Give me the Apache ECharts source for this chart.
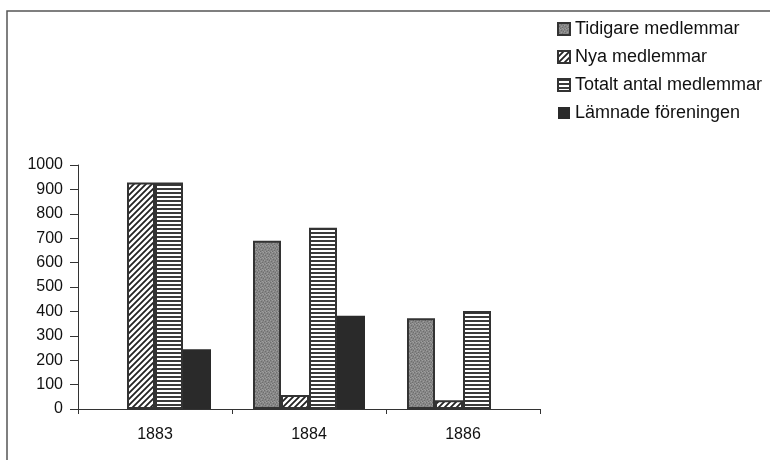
<!DOCTYPE html>
<html>
<head>
<meta charset="utf-8">
<script src="https://cdn.jsdelivr.net/npm/echarts@6/dist/echarts.min.js"></script>
<style>
  html, body { margin: 0; padding: 0; background: #fff; }
  #chart { width: 770px; height: 460px; }
</style>
</head>
<body>
<div id="chart"></div>
<script>
// data
const years = ['1883', '1884', '1886']
const tidigare = [null, 690, 372]
const nya = [928, 57, 36]
const totalt = [928, 743, 402]
const lamnade = [245, 382, null]
const yTicks = [0, 100, 200, 300, 400, 500, 600, 700, 800, 900, 1000]

// fill patterns (scanned print look)
function tile(w, h, draw) {
  const c = document.createElement('canvas')
  c.width = w
  c.height = h
  draw(c.getContext('2d'))
  return { image: c, repeat: 'repeat' }
}

const stipple = tile(6, 6, ctx => {
  ctx.fillStyle = '#878787'
  ctx.fillRect(0, 0, 6, 6)
  ctx.fillStyle = '#6e6e6e'
  ;[[0, 0], [3, 1], [1, 3], [4, 4], [5, 2], [2, 5]].forEach(p => ctx.fillRect(p[0], p[1], 1, 1))
  ctx.fillStyle = '#9e9e9e'
  ;[[2, 0], [5, 0], [0, 2], [3, 3], [1, 5], [4, 5]].forEach(p => ctx.fillRect(p[0], p[1], 1, 1))
})

const hatch = tile(6, 6, ctx => {
  ctx.fillStyle = '#fff'
  ctx.fillRect(0, 0, 6, 6)
  ctx.strokeStyle = '#222'
  ctx.lineWidth = 1.8
  ctx.beginPath()
  ctx.moveTo(-1, 7); ctx.lineTo(7, -1)
  ctx.moveTo(-4, 4); ctx.lineTo(4, -4)
  ctx.moveTo(2, 10); ctx.lineTo(10, 2)
  ctx.stroke()
})

const stripes = tile(4, 4, ctx => {
  ctx.fillStyle = '#fff'
  ctx.fillRect(0, 0, 4, 4)
  ctx.fillStyle = '#3a3a3a'
  ctx.fillRect(0, 0, 4, 2)
})

const fontFam = 'Arial, "Liberation Sans", sans-serif'

let mycharts = echarts.init(document.getElementById('chart'), null, { renderer: 'canvas' })
mycharts.setOption({
  animation: false,
  backgroundColor: '#fff',
  //frame of the scanned figure
  graphic: [
    {
      type: 'polyline',
      shape: { points: [[7, 460], [7, 11], [770, 11]] },
      style: { stroke: '#555', lineWidth: 1.5, fill: null },
    },
  ],
  legend: {
    orient: 'vertical',
    left: 557,
    top: 20,
    padding: 0,
    itemWidth: 12,
    itemHeight: 12,
    itemGap: 10,
    icon: 'rect',
    textStyle: {
      fontFamily: fontFam,
      fontSize: 18,
      lineHeight: 17,
      color: '#111',
    },
  },
  grid: {
    left: 78,
    right: 230,
    top: 165,
    bottom: 51,
  },
  xAxis: {
    type: 'category',
    data: years,
    axisLine: { show: true, lineStyle: { color: '#333', width: 1 } },
    axisTick: { show: true, length: 5, lineStyle: { color: '#333' } },
    axisLabel: {
      margin: 18,
      fontFamily: fontFam,
      fontSize: 16,
      color: '#111',
    },
  },
  yAxis: {
    type: 'value',
    min: 0,
    max: 1000,
    interval: 100,
    splitLine: { show: false },
    axisLine: { show: true, lineStyle: { color: '#333', width: 1 } },
    axisTick: { show: true, length: 8, lineStyle: { color: '#333' } },
    axisLabel: {
      margin: 15,
      fontFamily: fontFam,
      fontSize: 16,
      color: '#111',
      formatter: v => (yTicks.includes(v) ? String(v) : ''),
    },
  },
  series: [
    {
      name: 'Tidigare medlemmar',
      type: 'bar',
      data: tidigare,
      barWidth: 28,
      barGap: '0%',
      itemStyle: { color: stipple, borderColor: '#333', borderWidth: 2 },
    },
    {
      name: 'Nya medlemmar',
      type: 'bar',
      data: nya,
      barWidth: 28,
      barGap: '0%',
      itemStyle: { color: hatch, borderColor: '#333', borderWidth: 2 },
    },
    {
      name: 'Totalt antal medlemmar',
      type: 'bar',
      data: totalt,
      barWidth: 28,
      barGap: '0%',
      itemStyle: { color: stripes, borderColor: '#333', borderWidth: 2 },
    },
    {
      name: 'Lämnade föreningen',
      type: 'bar',
      data: lamnade,
      barWidth: 28,
      barGap: '0%',
      itemStyle: { color: '#2a2a2a', borderColor: '#2a2a2a', borderWidth: 0 },
    },
  ],
})
</script>
</body>
</html>
